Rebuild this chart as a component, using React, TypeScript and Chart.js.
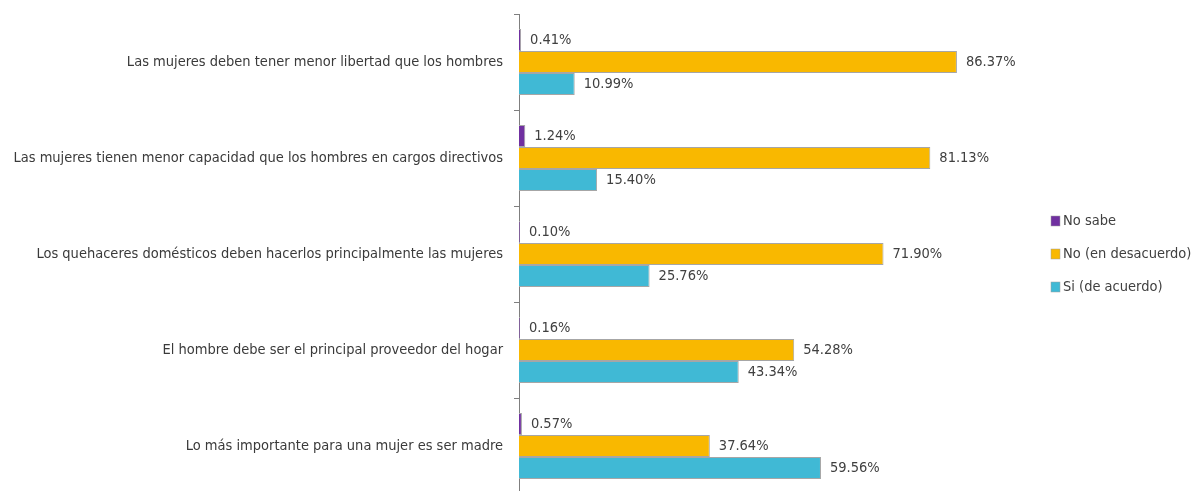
import React, { useEffect, useRef } from "react";
import { Chart, registerables } from "chart.js";

Chart.register(...registerables);

const categories = [
  "Las mujeres deben tener menor libertad que los hombres",
  "Las mujeres tienen menor capacidad que los hombres en cargos directivos",
  "Los quehaceres domésticos deben hacerlos principalmente las mujeres",
  "El hombre debe ser el principal proveedor del hogar",
  "Lo más importante para una mujer es ser madre",
];
const seriesNames = ["No sabe", "No (en desacuerdo)", "Si (de acuerdo)"];
const noSabe = [0.41, 1.24, 0.1, 0.16, 0.57];
const noDesacuerdo = [86.37, 81.13, 71.9, 54.28, 37.64];
const siAcuerdo = [10.99, 15.4, 25.76, 43.34, 59.56];
const colors = ["#7030A0", "#F9B800", "#40B9D5"];

const FONT = "'Liberation Sans Narrow', 'DejaVu Sans Condensed', sans-serif";
const FS = 14.5;

const labelPlugin = {
  id: "barLabels",
  afterDatasetsDraw(chart: any) {
    const ctx = chart.ctx;
    ctx.save();
    ctx.font = `${FS}px ${FONT}`;
    ctx.fillStyle = "#404040";
    ctx.textAlign = "left";
    ctx.textBaseline = "middle";
    chart.data.datasets.forEach((ds: any, i: number) => {
      const meta = chart.getDatasetMeta(i);
      meta.data.forEach((bar: any, j: number) => {
        ctx.fillText(ds.data[j].toFixed(2) + "%", bar.x + 9, bar.y);
      });
    });
    ctx.restore();
  },
};

const legendPlugin = {
  id: "customLegend",
  afterDraw(chart: any) {
    const ctx = chart.ctx;
    ctx.save();
    ctx.font = `${FS}px ${FONT}`;
    ctx.textAlign = "left";
    ctx.textBaseline = "middle";
    const x = 1051;
    const y0 = 221;
    const step = 33;
    seriesNames.forEach((name, i) => {
      const y = y0 + i * step;
      ctx.fillStyle = colors[i];
      ctx.fillRect(x, y - 5, 9, 10);
      ctx.strokeStyle = "#A0A0A0";
      ctx.lineWidth = 0.5;
      ctx.strokeRect(x, y - 5, 9, 10);
      ctx.fillStyle = "#404040";
      ctx.fillText(name, x + 12, y);
    });
    ctx.restore();
  },
};

export default function App() {
  const ref = useRef<HTMLCanvasElement>(null);
  useEffect(() => {
    const series = [noSabe, noDesacuerdo, siAcuerdo];
    const chart = new Chart(ref.current!, {
      type: "bar",
      data: {
        labels: categories,
        datasets: series.map((d, i) => ({
          label: seriesNames[i],
          data: d,
          backgroundColor: colors[i],
          borderColor: "#A6A6A6",
          borderWidth: 1,
          minBarLength: 1,
          categoryPercentage: 0.69,
          barPercentage: 1,
        })),
      },
      options: {
        indexAxis: "y",
        animation: false,
        responsive: false,
        maintainAspectRatio: false,
        layout: { padding: { top: 14, bottom: 0, left: 0, right: 172 } },
        plugins: {
          legend: { display: false },
          tooltip: { enabled: false },
        },
        scales: {
          x: {
            display: false,
            min: 0,
            max: 100,
          },
          y: {
            afterFit: (s: any) => {
              s.width = 519;
              s.paddingTop = 0;
              s.paddingBottom = 0;
            },
            border: { display: true, color: "#7F7F7F", width: 1 },
            grid: {
              offset: true,
              drawOnChartArea: false,
              drawTicks: true,
              tickLength: 5,
              color: "#7F7F7F",
            },
            ticks: {
              color: "#3A3A3A",
              font: { family: FONT, size: FS },
              padding: 11,
            },
          },
        },
      },
      plugins: [labelPlugin, legendPlugin],
    });
    return () => chart.destroy();
  }, []);
  return (
    <div style={{ position: "fixed", left: 0, top: 0, width: 1198, height: 491, overflow: "hidden", background: "#fff" }}>
      <canvas ref={ref} width={1198} height={494} style={{ display: "block" }} />
    </div>
  );
}
